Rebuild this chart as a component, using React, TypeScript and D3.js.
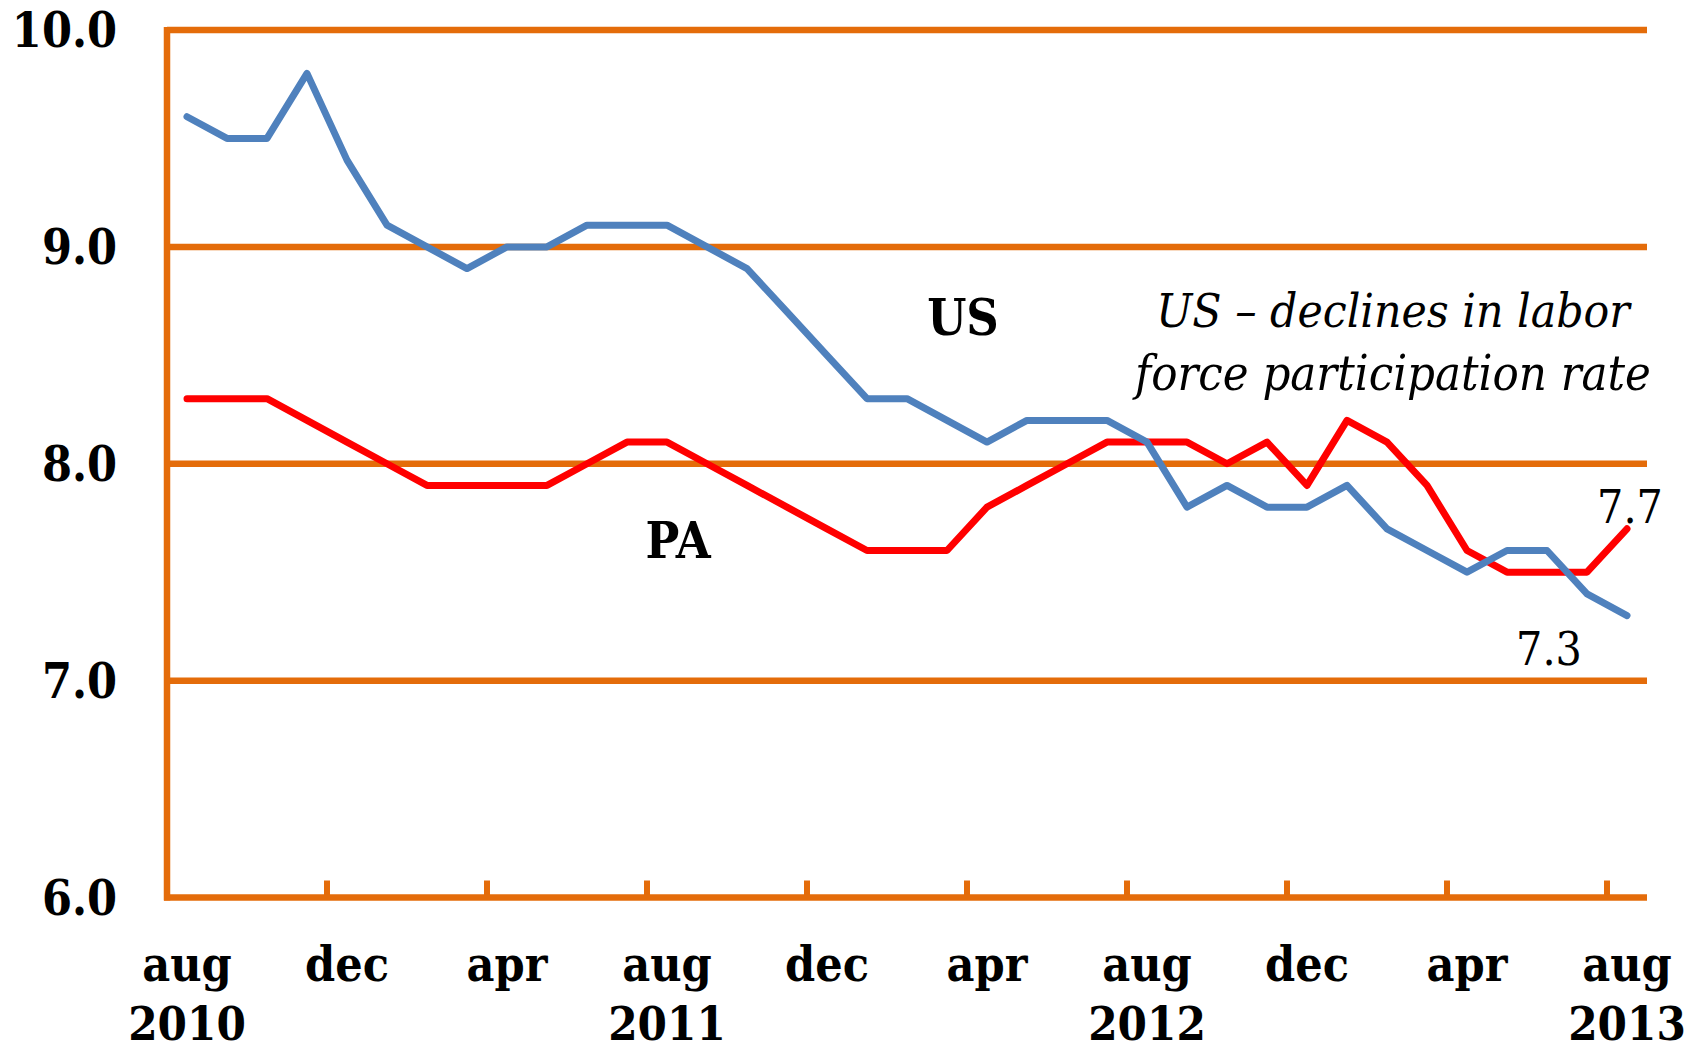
import React from "react";
import * as d3 from "d3";

const categories = [
  "2010-08","2010-09","2010-10","2010-11","2010-12",
  "2011-01","2011-02","2011-03","2011-04","2011-05","2011-06","2011-07","2011-08","2011-09","2011-10","2011-11","2011-12",
  "2012-01","2012-02","2012-03","2012-04","2012-05","2012-06","2012-07","2012-08","2012-09","2012-10","2012-11","2012-12",
  "2013-01","2013-02","2013-03","2013-04","2013-05","2013-06","2013-07","2013-08",
];

const usRate = [
  9.6, 9.5, 9.5, 9.8, 9.4,
  9.1, 9.0, 8.9, 9.0, 9.0, 9.1, 9.1, 9.1, 9.0, 8.9, 8.7, 8.5,
  8.3, 8.3, 8.2, 8.1, 8.2, 8.2, 8.2, 8.1, 7.8, 7.9, 7.8, 7.8,
  7.9, 7.7, 7.6, 7.5, 7.6, 7.6, 7.4, 7.3,
];

const paRate = [
  8.3, 8.3, 8.3, 8.2, 8.1,
  8.0, 7.9, 7.9, 7.9, 7.9, 8.0, 8.1, 8.1, 8.0, 7.9, 7.8, 7.7,
  7.6, 7.6, 7.6, 7.8, 7.9, 8.0, 8.1, 8.1, 8.1, 8.0, 8.1, 7.9,
  8.2, 8.1, 7.9, 7.6, 7.5, 7.5, 7.5, 7.7,
];

const yTicks = [6, 7, 8, 9, 10];
const xTickIndex = [0, 4, 8, 12, 16, 20, 24, 28, 32, 36];
const monthLabels = ["aug", "dec", "apr", "aug", "dec", "apr", "aug", "dec", "apr", "aug"];
const yearLabels = ["2010", "", "", "2011", "", "", "2012", "", "", "2013"];

const GRID = "#E46C0A";
const FONT = "'DejaVu Serif Condensed', 'DejaVu Serif', serif";

export default function App() {
  const W = 1701;
  const H = 1050;
  const x = d3.scaleLinear().domain([0, categories.length]).range([167, 1647]);
  const y = d3.scaleLinear().domain([6, 10]).range([897.5, 30]);
  const cx = (i: number) => x(i + 0.5);
  const line = d3
    .line<number>()
    .x((_, i) => cx(i))
    .y((d) => y(d));

  const usLast = usRate[usRate.length - 1];
  const paLast = paRate[paRate.length - 1];

  return (
    <svg
      width={W}
      height={H}
      viewBox={`0 0 ${W} ${H}`}
      style={{ position: "absolute", left: 0, top: 0, display: "block", background: "#fff" }}
    >
      {/* gridlines */}
      {yTicks
        .filter((t) => t > 6)
        .map((t) => (
          <line key={t} x1={x(0)} x2={x(categories.length)} y1={y(t)} y2={y(t)} stroke={GRID} strokeWidth={6.5} />
        ))}
      {/* y axis */}
      <line x1={x(0)} x2={x(0)} y1={y(10) - 3} y2={y(6) + 3} stroke={GRID} strokeWidth={6.5} />
      {/* x axis */}
      <line x1={x(0) - 3} x2={x(categories.length)} y1={y(6)} y2={y(6)} stroke={GRID} strokeWidth={6.5} />
      {xTickIndex.map((i) => (
        <line key={"t" + i} x1={x(i)} x2={x(i)} y1={y(6)} y2={y(6) - 17} stroke={GRID} strokeWidth={6} />
      ))}
      {/* y tick labels */}
      {yTicks.map((t) => (
        <text
          key={"yl" + t}
          x={117}
          y={y(t)}
          textAnchor="end"
          dominantBaseline="central"
          fontFamily={FONT}
          fontWeight="bold"
          fontSize={48}
          fill="#000"
        >
          {d3.format(".1f")(t)}
        </text>
      ))}
      {/* x tick labels */}
      {xTickIndex.map((i, k) => (
        <g key={"xl" + i}>
          <text x={cx(i)} y={981} textAnchor="middle" fontFamily={FONT} fontWeight="bold" fontSize={48} fill="#000">
            {monthLabels[k]}
          </text>
          {yearLabels[k] && (
            <text x={cx(i)} y={1040} textAnchor="middle" fontFamily={FONT} fontWeight="bold" fontSize={47} fill="#000">
              {yearLabels[k]}
            </text>
          )}
        </g>
      ))}
      {/* series */}
      <path d={line(paRate) || ""} fill="none" stroke="#FF0000" strokeWidth={7} strokeLinecap="round" strokeLinejoin="round" />
      <path d={line(usRate) || ""} fill="none" stroke="#4F81BD" strokeWidth={7} strokeLinecap="round" strokeLinejoin="round" />
      {/* annotations */}
      <text x={963} y={317} textAnchor="middle" dominantBaseline="central" fontFamily={FONT} fontWeight="bold" fontSize={50} fill="#000">
        US
      </text>
      <text x={678} y={540} textAnchor="middle" dominantBaseline="central" fontFamily={FONT} fontWeight="bold" fontSize={50} fill="#000">
        PA
      </text>
      <text x={1393} y={327} textAnchor="middle" fontFamily={FONT} fontStyle="italic" fontSize={47.5} fill="#000">
        US – declines in labor
      </text>
      <text x={1393} y={390} textAnchor="middle" fontFamily={FONT} fontStyle="italic" fontSize={48.5} fill="#000">
        force participation rate
      </text>
      <text x={1630} y={507} textAnchor="middle" dominantBaseline="central" fontFamily={FONT} fontSize={46} fill="#000">
        {d3.format(".1f")(paLast)}
      </text>
      <text x={1549} y={649} textAnchor="middle" dominantBaseline="central" fontFamily={FONT} fontSize={46} fill="#000">
        {d3.format(".1f")(usLast)}
      </text>
    </svg>
  );
}
